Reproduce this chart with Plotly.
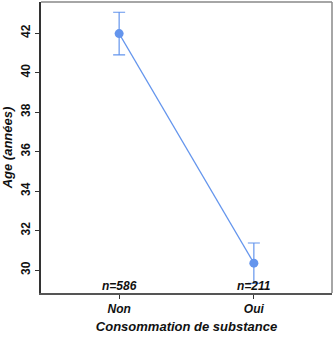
import plotly.graph_objects as go

# Mean age by substance use, with standard error
groups = ["Non", "Oui"]
group_pos = [1, 2]
mean_age = [41.97, 30.35]
se_age = [1.08, 1.02]
n_labels = ["n=586", "n=211"]
y_ticks = [30, 32, 34, 36, 38, 40, 42]

blue = "#6495ED"
font_family = "Liberation Sans, Arial, sans-serif"

fig = go.Figure()
fig.add_trace(go.Scatter(
    x=group_pos, y=mean_age,
    mode="lines+markers",
    line=dict(color=blue, width=1.2),
    marker=dict(color=blue, size=9),
    error_y=dict(type="data", array=se_age, color=blue, thickness=1.2, width=6),
    showlegend=False,
))

for xp, lab in zip(group_pos, n_labels):
    fig.add_annotation(
        x=xp, y=0, xref="x", yref="y domain", yanchor="bottom", yshift=-2,
        text=f"<b><i>{lab}</i></b>", showarrow=False,
        font=dict(family=font_family, size=12, color="#111"),
    )

# plot frame: lighter top/right, darker left/bottom
fig.add_shape(type="line", xref="paper", yref="paper", x0=0, x1=1, y0=1, y1=1,
              line=dict(color="#888", width=1.5))
fig.add_shape(type="line", xref="paper", yref="paper", x0=1, x1=1, y0=0, y1=1,
              line=dict(color="#888", width=1.5))

fig.update_layout(
    width=335, height=337,
    margin=dict(l=41, r=3, t=2, b=44),
    paper_bgcolor="white", plot_bgcolor="white",
    font=dict(family=font_family, color="#111"),
    xaxis=dict(
        range=[0.42, 2.58], tickvals=group_pos,
        ticktext=[f"<b><i>{g}</i></b>" for g in groups],
        tickfont=dict(size=12), ticks="outside", ticklen=4, tickcolor="#333",
        showline=True, linecolor="#555", linewidth=1.5, showgrid=False, zeroline=False,
        title=dict(text="<b><i>Consommation de substance</i></b>", font=dict(size=13), standoff=7),
    ),
    yaxis=dict(
        range=[28.84, 43.57], tickvals=y_ticks,
        tickfont=dict(size=12, weight="bold"), tickangle=-90,
        ticks="outside", ticklen=4, tickcolor="#333",
        showline=True, linecolor="#333", linewidth=1.5, showgrid=False, zeroline=False,
        title=dict(text="<b><i>Age (années)</i></b>", font=dict(size=13), standoff=5),
    ),
)

fig.write_html("out.html")
